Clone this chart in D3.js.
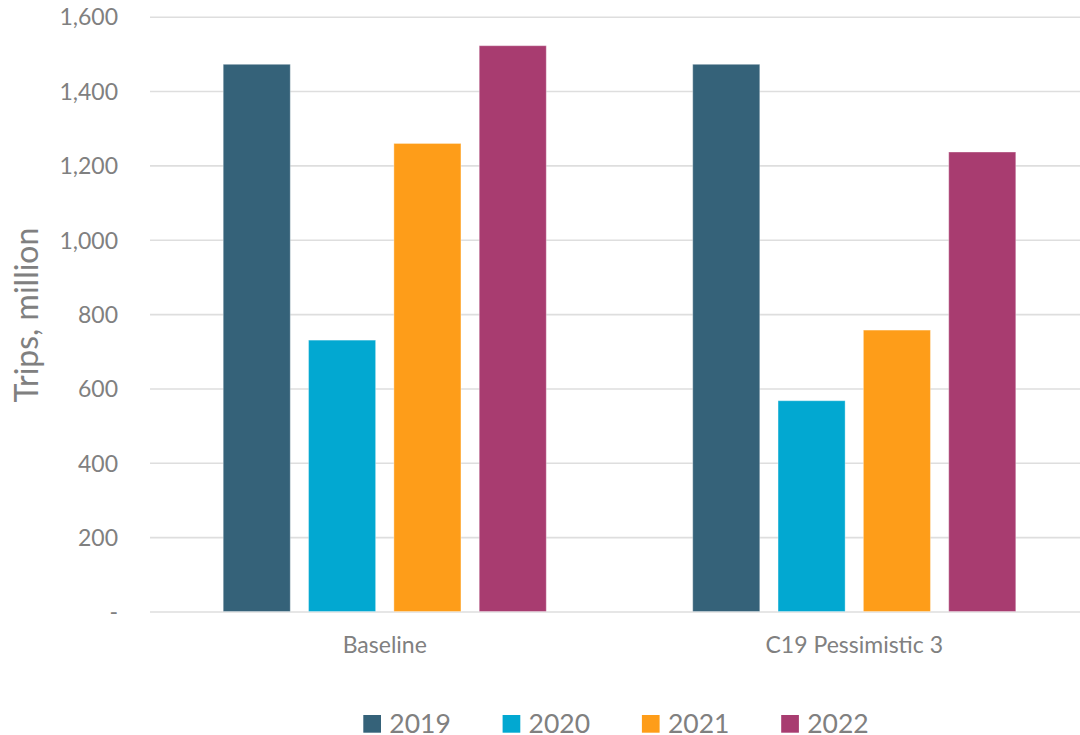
<!DOCTYPE html>
<html>
<head>
<meta charset="utf-8">
<script src="https://cdn.jsdelivr.net/npm/d3@7"></script>
<style>
  html, body { margin: 0; padding: 0; background: #ffffff; }
  svg { display: block; font-family: Lato, "Open Sans", sans-serif; }
</style>
</head>
<body>
<svg id="chart" width="1080" height="735"></svg>
<script>
// Scenario groups, series (years) and trip counts in millions
const categories = ["Baseline", "C19 Pessimistic 3"];
const years = ["2019", "2020", "2021", "2022"];
const baselineTrips = [1472, 730, 1259, 1522];
const pessimisticTrips = [1472, 567, 757, 1236];
const yTicks = [0, 200, 400, 600, 800, 1000, 1200, 1400, 1600];
const yearColors = ["#356279", "#02a8d1", "#fe9d19", "#a83c70"];

const tripsByCategory = [baselineTrips, pessimisticTrips];

const svg = d3.select("#chart");
const W = 1080, H = 735;
const plotLeft = 150, plotRight = 1089, plotTop = 16.7, plotBottom = 611.5;

const x0 = d3.scaleBand().domain(categories).range([plotLeft, plotRight]).padding(0);
const x1 = d3.scaleBand().domain(years).range([0, x0.bandwidth()])
  .paddingInner(0.214).paddingOuter(0.858);
const y = d3.scaleLinear().domain([0, 1600]).range([plotBottom, plotTop]);
const color = d3.scaleOrdinal().domain(years).range(yearColors);

const textGray = "#808080";

// Horizontal gridlines with tick labels
const yAxis = d3.axisLeft(y)
  .tickValues(yTicks)
  .tickSize(-(W - plotLeft))
  .tickPadding(0)
  .tickFormat(d => d === 0 ? "-" : d3.format(",")(d));

const gAxis = svg.append("g")
  .attr("transform", `translate(${plotLeft},0)`)
  .call(yAxis);
gAxis.select(".domain").remove();
gAxis.selectAll(".tick line")
  .attr("stroke", "#dedede")
  .attr("stroke-width", 1.6);
gAxis.selectAll(".tick text")
  .attr("x", -32)
  .attr("dy", "0.36em")
  .attr("fill", textGray)
  .attr("font-size", 23)
  .attr("font-family", "Lato, sans-serif");

// Bars
const groups = svg.append("g").selectAll("g")
  .data(categories)
  .join("g")
  .attr("transform", d => `translate(${x0(d)},0)`);

groups.selectAll("rect")
  .data((c, i) => years.map((yr, j) => ({ year: yr, value: tripsByCategory[i][j] })))
  .join("rect")
  .attr("x", d => x1(d.year))
  .attr("y", d => y(d.value))
  .attr("width", x1.bandwidth())
  .attr("height", d => y(0) - y(d.value))
  .attr("fill", d => color(d.year))
  .attr("stroke", "#ffffff")
  .attr("stroke-opacity", 0.35)
  .attr("stroke-width", 1);

// Category labels
const xAxis = d3.axisBottom(x0).tickSize(0).tickPadding(0);
const gx = svg.append("g")
  .attr("transform", `translate(0,${plotBottom})`)
  .call(xAxis);
gx.select(".domain").remove();
gx.selectAll(".tick text")
  .attr("y", 41)
  .attr("dy", 0)
  .attr("fill", textGray)
  .attr("font-size", 23)
  .attr("font-family", "Lato, sans-serif");

// Y-axis title
svg.append("text")
  .attr("transform", `translate(38,315) rotate(-90)`)
  .attr("text-anchor", "middle")
  .attr("fill", textGray)
  .attr("font-size", 32)
  .text("Trips, million");

// Legend
const legendX = d3.scalePoint().domain(years).range([363.3, 363.3 + 3 * 139.3]);
const legend = svg.append("g").selectAll("g")
  .data(years)
  .join("g")
  .attr("transform", d => `translate(${legendX(d)},0)`);
legend.append("rect")
  .attr("x", 0)
  .attr("y", 715)
  .attr("width", 17.7)
  .attr("height", 17.7)
  .attr("fill", d => color(d));
legend.append("text")
  .attr("x", 26)
  .attr("y", 732.7)
  .attr("fill", textGray)
  .attr("font-size", 26.5)
  .text(d => d);
</script>
</body>
</html>
